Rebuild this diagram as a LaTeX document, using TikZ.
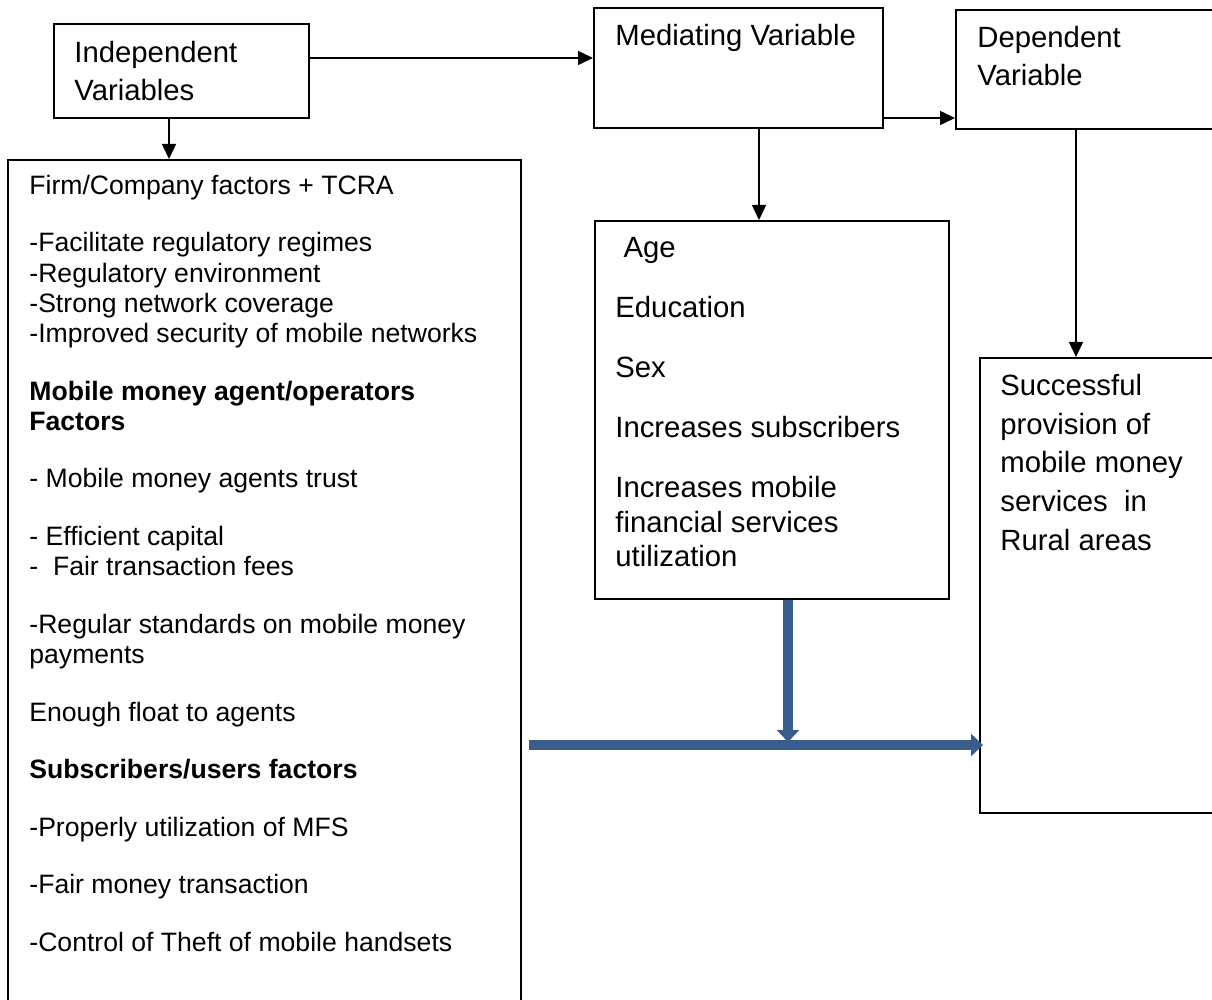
\documentclass[tikz,border=0pt]{standalone}
\usepackage{fontspec}
\setmainfont{Liberation Sans}
\usetikzlibrary{arrows.meta}
\definecolor{mmblue}{HTML}{385D8A}

\begin{document}
\begin{tikzpicture}[x=0.5pt, y=-0.5pt,
    box/.style = {draw, line width=1pt, inner sep=0pt, anchor=north west},
    txt/.style = {align=left, inner sep=0pt, anchor=north west, font=\fontsize{14.65}{19}\selectfont},
    small/.style = {font=\fontsize{13.3}{15.1}\selectfont},
    arr/.style = {-{Triangle[length=7.5pt,width=7pt]}, line width=0.75pt},
    thickarr/.style = {-{Triangle[length=6pt,width=11pt]}, line width=5pt, draw=mmblue}]
  \useasboundingbox (0,0) rectangle (1212,1000);
  \clip (0,0) rectangle (1212,1000);
  % boxes
  \node[box, minimum width=127.5pt, minimum height=47pt] (indep) at (53,23) {};
  \node[box, minimum width=144.5pt, minimum height=60pt] (med) at (593,7) {};
  \node[box, minimum width=150pt, minimum height=59.5pt] (dep) at (955,9) {};
  \node[box, minimum width=256.5pt, minimum height=440pt] (frame) at (7,159) {};
  \node[box, minimum width=177pt, minimum height=189pt] (age) at (594,220) {};
  \node[box, minimum width=150pt, minimum height=227.5pt] (succ) at (979,357) {};
  % texts
  \node[txt] (indeptxt) at (74,40.6) {Independent\\Variables};
  \node[txt] (medtxt) at (615,23.6) {Mediating Variable};
  \node[txt] (deptxt) at (977,25.6) {Dependent\\Variable};
  \node[txt, small] (frametxt) at (29,174.6) {Firm/Company factors + TCRA\\[13.7pt]
    -Facilitate regulatory regimes\\
    -Regulatory environment\\
    -Strong network coverage\\
    -Improved security of mobile networks\\[13.7pt]
    \textbf{Mobile money agent/operators}\\
    \textbf{Factors}\\[13.7pt]
    - Mobile money agents trust\\[13.7pt]
    - Efficient capital\\
    -\ \ Fair transaction fees\\[13.7pt]
    -Regular standards on mobile money\\
    payments\\[13.7pt]
    Enough float to agents\\[13.7pt]
    \textbf{Subscribers/users factors}\\[13.7pt]
    -Properly utilization of MFS\\[13.7pt]
    -Fair money transaction\\[13.7pt]
    -Control of Theft of mobile handsets};
  \node[txt, font=\fontsize{14.65}{17.25}\selectfont] (agetxt) at (615,237) {\ Age\\[12.75pt]
    Education\\[12.75pt]
    Sex\\[12.75pt]
    Increases subscribers\\[12.75pt]
    Increases mobile\\
    financial services\\
    utilization};
  \node[txt, font=\fontsize{14.65}{19.4}\selectfont] (succtxt) at (1000,373.6) {Successful\\
    provision of\\
    mobile money\\
    services\ \ in\\
    Rural areas};
  % connectors
  \draw[arr] ([yshift=6.5pt]indep.east) -- ([yshift=6.5pt]indep.east -| med.west);
  \draw[arr] ([yshift=-25pt]med.east) -- ([yshift=-25pt]med.east -| dep.west);
  \draw[arr] ([xshift=-6.25pt]indep.south) -- ([xshift=-6.25pt]indep.south |- frame.north);
  \draw[arr] ([xshift=10.25pt]med.south) -- ([xshift=10.25pt]med.south |- age.north);
  \draw[arr] ([xshift=60.5pt]dep.south west) -- ([xshift=60.5pt]dep.south west |- succ.north);
  \coordinate (join) at (788,745);
  \draw[thickarr] (age.south -| join) -- ([yshift=1.5pt]join);
  \draw[thickarr] ([xshift=3.5pt]frame.east |- join) -- ([xshift=2pt]succ.west |- join);
\end{tikzpicture}
\end{document}
